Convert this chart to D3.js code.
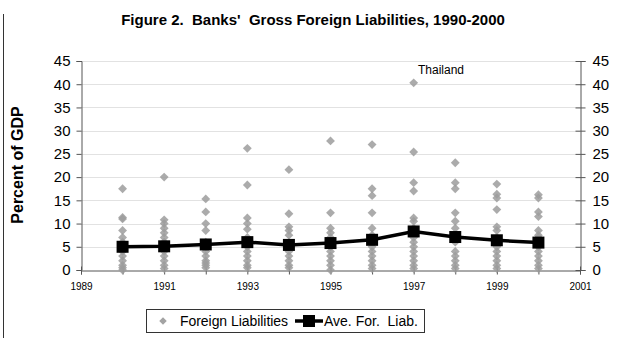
<!DOCTYPE html>
<html>
<head>
<meta charset="utf-8">
<script src="https://d3js.org/d3.v7.min.js"></script>
<style>
body { margin: 0; background: #fff; }
text { font-family: "Liberation Sans", Arial, sans-serif; white-space: pre; }
</style>
</head>
<body>
<script>
var years = [1990, 1991, 1992, 1993, 1994, 1995, 1996, 1997, 1998, 1999, 2000];
// country observations per year (percent of GDP)
var liab = [
	[17.5, 11.3, 11.0, 8.5, 7, 6, 5, 4, 3, 2, 1, 0.5, 0],
	[20, 10.8, 10, 9, 8, 7, 6, 5, 4, 3, 2, 1, 0.3],
	[15.3, 12.5, 10, 8.5, 6, 5, 4, 3, 2, 1.5, 1, 0.5],
	[26.2, 18.3, 11.2, 10, 8.8, 7, 6, 5, 4, 3, 2, 1, 0.5],
	[21.6, 12.1, 9.3, 8.5, 7.5, 6, 5, 4, 3, 2, 1, 0.5],
	[27.8, 12.3, 9, 8, 7, 6, 5, 4, 3, 2, 1, 0],
	[27, 17.5, 16, 12.3, 9, 7.5, 6, 5, 4, 3, 2, 1, 0.3],
	[40.3, 25.4, 18.8, 17, 11.2, 10.5, 9, 8, 7, 6, 5, 4, 3, 2, 1, 0.3],
	[23.1, 18.8, 17.5, 12.3, 10.5, 9, 7.5, 6, 4, 3, 2, 1, 0.3],
	[18.5, 16.3, 15.5, 13, 9.3, 8.5, 7, 6, 5, 4, 3, 2, 1, 0.3],
	[16.2, 15.5, 12.5, 11.5, 8.5, 7.5, 7, 6, 5, 4, 3, 2, 1, 0.3]
];
var average = [5.0, 5.1, 5.5, 6.0, 5.4, 5.8, 6.5, 8.3, 7.1, 6.4, 5.9];
var yTicks = [0, 5, 10, 15, 20, 25, 30, 35, 40, 45];
var xTicks = [1989, 1991, 1993, 1995, 1997, 1999, 2001];

var w = 626, h = 338;
var plot_left = 81, plot_right = 580, plot_top = 61, plot_bottom = 270;

var svg = d3.select("body").append("svg")
	.attr("width", w)
	.attr("height", h);

// frame edge on the left
svg.append("line")
	.attr("x1", 3.5).attr("x2", 3.5)
	.attr("y1", 14).attr("y2", h)
	.attr("stroke", "#333").attr("stroke-width", 1);

var x = d3.scaleLinear().domain([1989, 2001]).range([plot_left, plot_right]);
var y = d3.scaleLinear().domain([0, 45]).range([plot_bottom, plot_top]);

// title
svg.append("text")
	.attr("x", 313).attr("y", 25)
	.attr("text-anchor", "middle")
	.attr("font-size", 15).attr("font-weight", "bold")
	.text("Figure 2.  Banks'  Gross Foreign Liabilities, 1990-2000");

// grid
svg.append("g").selectAll("line")
	.data(yTicks.filter(function(d) { return d > 0; }))
	.join("line")
	.attr("x1", plot_left).attr("x2", plot_right)
	.attr("y1", function(d) { return Math.round(y(d)) + 0.5; })
	.attr("y2", function(d) { return Math.round(y(d)) + 0.5; })
	.attr("stroke", "#e2e2e2");

// left axis
var gl = svg.append("g").attr("transform", "translate(" + (plot_left + 0.5) + ",0)")
	.call(d3.axisLeft(y).tickValues(yTicks).tickSize(5).tickPadding(6));
// right axis
var gr = svg.append("g").attr("transform", "translate(" + (plot_right + 0.5) + ",0)")
	.call(d3.axisRight(y).tickValues(yTicks).tickSize(5).tickPadding(7));
gr.selectAll(".tick line").attr("x1", -5);
[gl, gr].forEach(function(g) {
	g.select(".domain").attr("stroke", "#555");
	g.selectAll(".tick line").attr("stroke", "#555");
	g.selectAll("text").attr("font-size", 15).attr("fill", "#000")
		.style("font-family", "Liberation Sans, Arial, sans-serif");
});

// bottom axis
var gb = svg.append("g").attr("transform", "translate(0," + (plot_bottom + 0.5) + ")")
	.call(d3.axisBottom(x).tickValues(d3.range(1989, 2002)).tickSize(4).tickPadding(8)
		.tickFormat(function(d) { return xTicks.indexOf(d) >= 0 ? d : ""; }));
gb.selectAll(".tick line").attr("y1", -4).attr("stroke", "#555");
gb.select(".domain").attr("stroke", "#555");
gb.selectAll("text").attr("font-size", 10).attr("fill", "#000")
	.style("font-family", "Liberation Sans, Arial, sans-serif");

// y title
svg.append("text")
	.attr("transform", "translate(23,165) rotate(-90)")
	.attr("text-anchor", "middle")
	.attr("font-size", 16).attr("font-weight", "bold")
	.text("Percent of GDP");

// scatter
var pts = [];
years.forEach(function(yr, i) {
	liab[i].forEach(function(v) { pts.push([yr, v]); });
});
var diamond = d3.symbol().type(d3.symbolDiamond2).size(50);
svg.append("g").selectAll("path")
	.data(pts)
	.join("path")
	.attr("d", diamond)
	.attr("transform", function(d) { return "translate(" + x(d[0]) + "," + y(d[1]) + ")"; })
	.attr("fill", "#9c9c9c")
	.attr("opacity", 0.85);

// average line
var line = d3.line()
	.x(function(d, i) { return x(years[i]); })
	.y(function(d) { return y(d); });
svg.append("path")
	.datum(average)
	.attr("d", line)
	.attr("fill", "none")
	.attr("stroke", "#000")
	.attr("stroke-width", 3.5);
svg.append("g").selectAll("rect")
	.data(average)
	.join("rect")
	.attr("x", function(d, i) { return x(years[i]) - 6; })
	.attr("y", function(d) { return y(d) - 6; })
	.attr("width", 12).attr("height", 12)
	.attr("fill", "#000");

// annotation
svg.append("text")
	.attr("x", 418).attr("y", 74)
	.attr("font-size", 12)
	.text("Thailand");

// legend
var lg = svg.append("g");
lg.append("rect")
	.attr("x", 146.5).attr("y", 309.5)
	.attr("width", 278).attr("height", 23)
	.attr("fill", "#fff").attr("stroke", "#333");
lg.append("path")
	.attr("d", d3.symbol().type(d3.symbolDiamond2).size(36))
	.attr("transform", "translate(163,321)")
	.attr("fill", "#a3a3a3");
lg.append("text")
	.attr("x", 180).attr("y", 326)
	.attr("font-size", 14)
	.attr("textLength", 108)
	.text("Foreign Liabilities");
lg.append("line")
	.attr("x1", 295).attr("x2", 323)
	.attr("y1", 321).attr("y2", 321)
	.attr("stroke", "#000").attr("stroke-width", 3.5);
lg.append("rect")
	.attr("x", 303).attr("y", 315)
	.attr("width", 12).attr("height", 12)
	.attr("fill", "#000");
lg.append("text")
	.attr("x", 324).attr("y", 326)
	.attr("font-size", 14)
	.text("Ave. For.  Liab.");
</script>
</body>
</html>
